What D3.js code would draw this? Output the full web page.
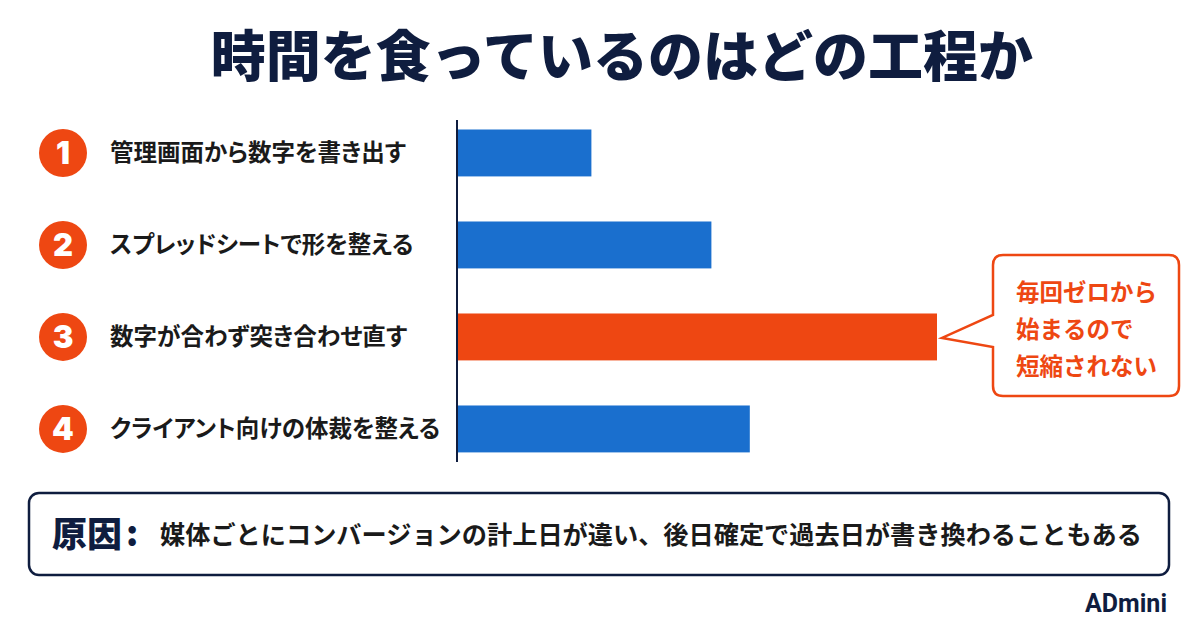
<!DOCTYPE html>
<html><head><meta charset="utf-8">
<script src="https://cdn.jsdelivr.net/npm/d3@7"></script>
<style>
html,body{margin:0;padding:0;background:#fff;}
svg{display:block;font-family:"Noto Sans CJK JP","Noto Sans",sans-serif;}
.palt{font-feature-settings:"palt" 1;}
</style></head>
<body><svg id="c" width="1200" height="628"></svg>
<script>
const title = "時間を食っているのはどの工程か";
const categories = ["管理画面から数字を書き出す","スプレッドシートで形を整える","数字が合わず突き合わせ直す","クライアント向けの体裁を整える"];
const stepNumbers = ["1","2","3","4"];
const values = [28, 53, 100, 61];
const highlighted = [false, false, true, false];
const calloutLines = ["毎回ゼロから","始まるので","短縮されない"];
const causeLabel = "原因";
const causeText = "媒体ごとにコンバージョンの計上日が違い、後日確定で過去日が書き換わることもある";
const brand = "ADmini";

const navy = "#0f1d3f", blue = "#1a6fce", orange = "#ee4712", ink = "#1a1a1a";
const svg = d3.select("#c");

svg.append("text").attr("x", 622).attr("y", 76).attr("text-anchor","middle")
  .attr("font-size", 55).attr("font-weight", 900).attr("fill", navy).text(title);

const x = d3.scaleLinear().domain([0, 100]).range([457, 937]);
const y = d3.scaleBand().domain(d3.range(categories.length)).range([83.5, 498.4]).paddingInner(0.49).paddingOuter(0.5);

const bh = y.bandwidth();
svg.selectAll("rect.bar").data(values).join("rect").attr("class","bar")
  .attr("x", x(0)).attr("y", (d,i)=>y(i)).attr("width", d=>x(d)-x(0)).attr("height", bh)
  .attr("fill", (d,i)=>highlighted[i]?orange:blue);

svg.append("line").attr("x1", x(0)).attr("x2", x(0)).attr("y1", 120).attr("y2", 462)
  .attr("stroke", navy).attr("stroke-width", 2);

const g = svg.selectAll("g.lab").data(categories).join("g").attr("class","lab")
  .attr("transform", (d,i)=>`translate(0,${y(i)+bh/2})`);
g.append("circle").attr("cx", 63).attr("cy", 0).attr("r", 24).attr("fill", orange);
g.append("text").attr("x", 63).attr("y", 11).attr("text-anchor","middle").attr("font-size", 31)
  .attr("font-weight", 900).attr("fill","#fff").attr("font-family","Inter, 'Noto Sans', sans-serif").text((d,i)=>stepNumbers[i]);
g.append("text").attr("class","palt").attr("x", 110).attr("y", 8).attr("font-size", 23.5).attr("font-weight", 700)
  .attr("fill", ink).text(d=>d);

// callout
const hi = highlighted.indexOf(true);
const cy = y(hi) + bh/2;
const bx0 = 993, bx1 = 1179, by0 = 255, by1 = 396, r = 10;
const tipX = x(values[hi]) + 5;
const p = d3.path();
p.moveTo(bx0 + r, by0);
p.lineTo(bx1 - r, by0); p.quadraticCurveTo(bx1, by0, bx1, by0 + r);
p.lineTo(bx1, by1 - r); p.quadraticCurveTo(bx1, by1, bx1 - r, by1);
p.lineTo(bx0 + r, by1); p.quadraticCurveTo(bx0, by1, bx0, by1 - r);
p.lineTo(bx0, cy + 10); p.lineTo(tipX, cy + 1); p.lineTo(bx0, cy - 22);
p.lineTo(bx0, by0 + r); p.quadraticCurveTo(bx0, by0, bx0 + r, by0);
p.closePath();
svg.append("path").attr("d", p.toString()).attr("fill","#fff").attr("stroke", orange).attr("stroke-width", 2.5);
svg.selectAll("text.co").data(calloutLines).join("text").attr("class","co")
  .attr("x", 1016).attr("y", (d,i)=>301 + i*37).attr("font-size", 23.5).attr("font-weight", 700)
  .attr("fill", orange).text(d=>d);

// cause box
svg.append("rect").attr("x", 29).attr("y", 493).attr("width", 1140).attr("height", 82).attr("rx", 10)
  .attr("fill","#fff").attr("stroke", navy).attr("stroke-width", 2.5);
svg.append("text").attr("x", 52).attr("y", 547).attr("font-size", 35).attr("font-weight", 900)
  .attr("fill", navy).text(causeLabel);
svg.append("text").attr("x", 126).attr("y", 546).attr("font-size", 35).attr("font-weight", 900)
  .attr("fill", navy).text(":");
svg.append("text").attr("x", 160).attr("y", 544).attr("font-size", 25).attr("font-weight", 700)
  .attr("fill", ink).attr("textLength", 982).attr("lengthAdjust","spacingAndGlyphs").text(causeText);

svg.append("text").attr("x", 1167).attr("y", 612).attr("text-anchor","end").attr("font-size", 25)
  .attr("font-weight", 700).attr("fill", navy).attr("font-family","Roboto, 'Noto Sans', sans-serif").text(brand);
</script></body></html>
